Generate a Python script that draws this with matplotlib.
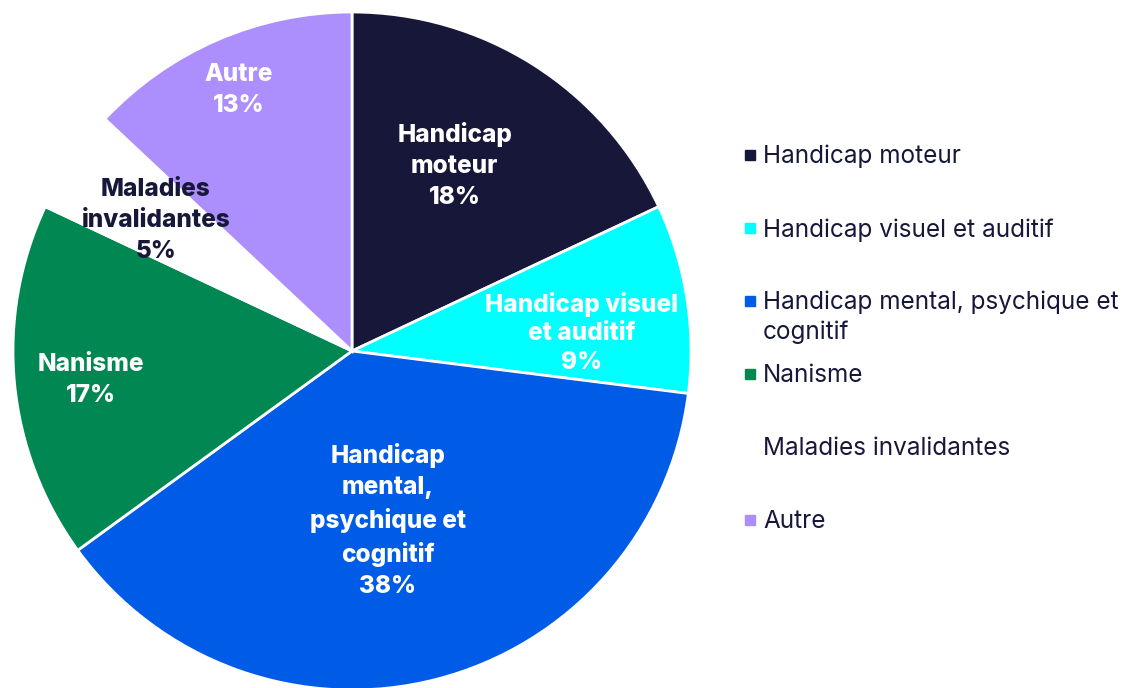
import numpy as np
import matplotlib.pyplot as plt

# Données
categories = ['Handicap moteur', 'Handicap visuel et auditif',
              'Handicap mental, psychique et cognitif', 'Nanisme',
              'Maladies invalidantes', 'Autre']
valeurs = [18, 9, 38, 17, 5, 13]
etiquettes = ['Handicap\nmoteur', 'Handicap visuel\net auditif',
              'Handicap\nmental,\npsychique et\ncognitif', 'Nanisme',
              'Maladies\ninvalidantes', 'Autre']
legende = ['Handicap moteur', 'Handicap visuel et auditif',
           'Handicap mental, psychique et\ncognitif', 'Nanisme',
           'Maladies invalidantes', 'Autre']

couleurs = ['#17173A', '#00FFFF', '#005CE6', '#008752', '#FFFFFF', '#AC8EFC']
coul_texte = ['white', 'white', 'white', 'white', '#17173A', 'white']
# distance relative du texte au centre et décalage d'angle (degrés)
dist = [0.625, 0.68, 0.51, 0.775, 0.695, 0.84]
decal = [3.4, -4.5, -2.4, 1.0, 0.5, 0.0]
interligne = [1.45, 1.3, 1.45, 1.45, 1.45, 1.45]

W, H = 1126, 688
fig = plt.figure(figsize=(W / 100, H / 100), dpi=100)
ax = fig.add_axes([0, 0, 1, 1])

cx, cy, r = 352, H - 351, 339
wedges, _ = ax.pie(valeurs, colors=couleurs, startangle=90, counterclock=False,
                   center=(cx, cy), radius=r,
                   wedgeprops=dict(edgecolor='white', linewidth=2))
ax.set_xlim(0, W)
ax.set_ylim(0, H)
ax.set_aspect('equal')
ax.axis('off')

for w, lab, v, c, f, d, ls in zip(wedges, etiquettes, valeurs, coul_texte,
                                  dist, decal, interligne):
    a = np.deg2rad((w.theta1 + w.theta2) / 2 + d)
    x = cx + r * f * np.cos(a)
    y = cy + r * f * np.sin(a)
    ax.text(x, y, '%s\n%d%%' % (lab, v), ha='center', va='center',
            color=c, fontsize=17.5, fontweight='heavy', family='Inter',
            linespacing=ls)

# Légende
for i, (lab, col) in enumerate(zip(legende, couleurs)):
    yl = 155 + 73 * i
    ax.plot(750, H - yl, 's', color=col, markersize=6.5)
    ax.text(763, H - yl + 10, lab, ha='left', va='top', color='#17173A',
            fontsize=17.5, family='Inter', linespacing=1.3)

fig.savefig('out.png', dpi=100)
